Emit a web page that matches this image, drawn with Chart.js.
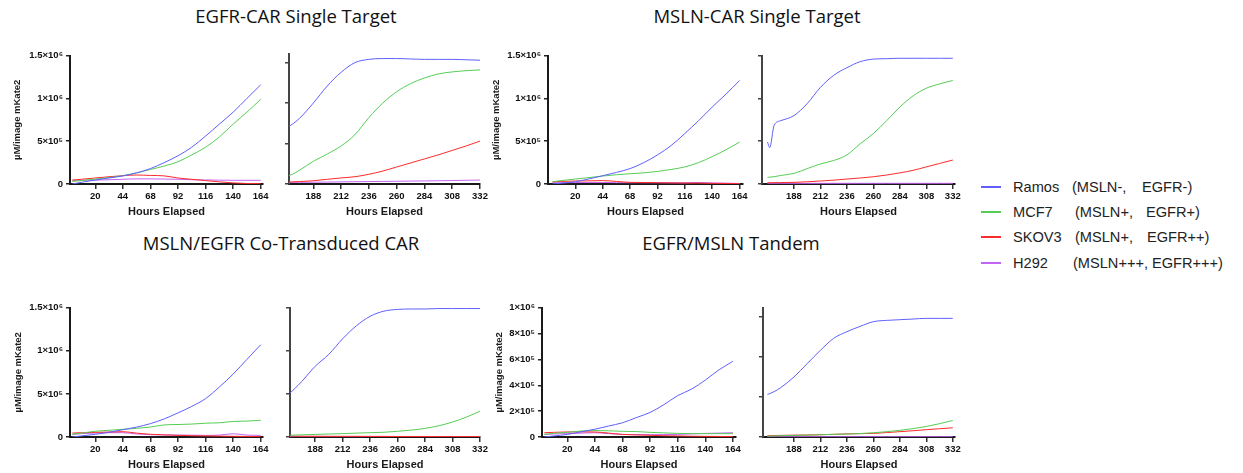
<!DOCTYPE html>
<html>
<head>
<meta charset="utf-8">
<script src="https://cdn.jsdelivr.net/npm/chart.js@4/dist/chart.umd.min.js"></script>
<style>
  body { margin: 0; background: #fff; }
  #page { position: relative; width: 1243px; height: 473px; overflow: hidden; background: #fff; font-family: "Liberation Sans", Arial, sans-serif; }
  canvas { position: absolute; }
  .title { position: absolute; width: 400px; text-align: center; font-family: "Open Sans", sans-serif; font-size: 18.5px; line-height: 18.5px; color: #111; }
  .row { position: absolute; left: 981px; width: 262px; height: 18px; line-height: 18px; font-size: 14.6px; color: #222; }
  .row span { position: absolute; top: 0; white-space: pre; }
  .row i { position: absolute; left: 0; top: 8px; width: 20px; height: 2px; }
</style>
</head>
<body>
<div id="page">
  <div class="title" style="left:96px; top:7px;">EGFR-CAR Single Target</div>
  <div class="title" style="left:557px; top:7px;">MSLN-CAR Single Target</div>
  <div class="title" style="left:81px; top:234px;">MSLN/EGFR Co-Transduced CAR</div>
  <div class="title" style="left:531px; top:234px;">EGFR/MSLN Tandem</div>
  <div id="legend"></div>
</div>
<script>
// time axis (hours elapsed), split into two halves
const hoursLeft = [0, 8, 20, 32, 44, 56, 68, 80, 92, 104, 116, 128, 140, 152, 164];
const hoursRight = [164, 166, 170, 176, 188, 200, 212, 224, 236, 248, 260, 272, 284, 296, 308, 320, 332];
const xTicksLeft = [20, 44, 68, 92, 116, 140, 164];
const xTicksRight = [188, 212, 236, 260, 284, 308, 332];

const yTicks15 = [0, 500000, 1000000, 1500000];
const yLabels15 = ["0", "5×10⁵", "1×10⁶", "1.5×10⁶"];
const yTicks10 = [0, 200000, 400000, 600000, 800000, 1000000];
const yLabels10 = ["0", "2×10⁵", "4×10⁵", "6×10⁵", "8×10⁵", "1×10⁶"];
const yTicksTandemRight = [0, 300000, 600000, 900000];

const cellLines = ["Ramos", "MCF7", "SKOV3", "H292"];
const cellMarkers = [["(MSLN-,", "EGFR-)"], ["(MSLN+,", "EGFR+)"], ["(MSLN+,", "EGFR++)"], ["(MSLN+++,", "EGFR+++)"]];
const lineColors = ["#5f5fff", "#55cc55", "#ff2a2a", "#c464f2"];

// EGFR-CAR single target
const egfrRamosL = [0, 2e4, 4.7e4, 7e4, 9.5e4, 1.3e5, 1.8e5, 2.5e5, 3.3e5, 4.3e5, 5.6e5, 7.0e5, 8.4e5, 1.0e6, 1.16e6];
const egfrMcf7L  = [3e4, 4e4, 5.8e4, 7.5e4, 9.7e4, 1.3e5, 1.7e5, 2.1e5, 2.6e5, 3.4e5, 4.3e5, 5.5e5, 7.0e5, 8.4e5, 9.9e5];
const egfrSkov3L = [4.6e4, 5.5e4, 7e4, 8.5e4, 9.7e4, 1.05e5, 1.0e5, 9.5e4, 7e4, 5.5e4, 4e4, 2.5e4, 1.3e4, 6e3, 4e3];
const egfrH292L  = [4.3e4, 4.4e4, 4.5e4, 5e4, 5.5e4, 6e4, 6e4, 5.8e4, 5.5e4, 5e4, 4.7e4, 4.5e4, 4.3e4, 4.3e4, 4.3e4];
const egfrRamosR = [6.9e5, 7.05e5, 7.4e5, 8.1e5, 1.0e6, 1.21e6, 1.38e6, 1.5e6, 1.54e6, 1.55e6, 1.55e6, 1.545e6, 1.54e6, 1.54e6, 1.54e6, 1.535e6, 1.53e6];
const egfrMcf7R  = [9e4, 1e5, 1.2e5, 1.7e5, 2.8e5, 3.7e5, 4.7e5, 6.1e5, 8.2e5, 1.0e6, 1.14e6, 1.24e6, 1.31e6, 1.36e6, 1.385e6, 1.4e6, 1.41e6];
const egfrSkov3R = [2.3e4, 2.5e4, 2.7e4, 3e4, 4e4, 5.8e4, 7.5e4, 9e4, 1.2e5, 1.6e5, 2.1e5, 2.6e5, 3.1e5, 3.6e5, 4.15e5, 4.7e5, 5.3e5];
const egfrH292R  = [2e4, 2e4, 2e4, 2.1e4, 2.2e4, 2.4e4, 2.6e4, 2.8e4, 3e4, 3.2e4, 3.4e4, 3.6e4, 3.8e4, 4e4, 4.3e4, 4.6e4, 4.9e4];

// MSLN-CAR single target
const mslnRamosL = [0, 1e4, 2.7e4, 6e4, 9.7e4, 1.35e5, 1.8e5, 2.5e5, 3.4e5, 4.5e5, 5.9e5, 7.4e5, 9.0e5, 1.05e6, 1.21e6];
const mslnMcf7L  = [2.7e4, 4e4, 5.8e4, 7.5e4, 9.3e4, 1.08e5, 1.2e5, 1.3e5, 1.47e5, 1.7e5, 2.0e5, 2.5e5, 3.2e5, 4.0e5, 4.9e5];
const mslnSkov3L = [2.7e4, 3e4, 3.5e4, 3.7e4, 4e4, 3e4, 1.9e4, 1.7e4, 1.5e4, 1.3e4, 1.2e4, 1e4, 8e3, 6e3, 4e3];
const mslnH292L  = [1.5e4, 1.6e4, 1.7e4, 1.8e4, 1.8e4, 1.6e4, 1.5e4, 1.5e4, 1.5e4, 1.4e4, 1.3e4, 1.8e4, 1.2e4, 1e4, 6e3];
const mslnRamosR = [4.9e5, 4.26e5, 6.86e5, 7.4e5, 8.0e5, 9.4e5, 1.13e6, 1.27e6, 1.36e6, 1.43e6, 1.46e6, 1.465e6, 1.47e6, 1.47e6, 1.47e6, 1.47e6, 1.47e6];
const mslnMcf7R  = [7.8e4, 8e4, 8.5e4, 1e5, 1.24e5, 1.8e5, 2.35e5, 2.75e5, 3.4e5, 4.7e5, 5.9e5, 7.4e5, 9.0e5, 1.03e6, 1.12e6, 1.17e6, 1.21e6];
const mslnSkov3R = [1.5e4, 1.5e4, 1.6e4, 1.7e4, 1.9e4, 2.6e4, 3.5e4, 4.5e4, 5.8e4, 7e4, 8.5e4, 1.05e5, 1.3e5, 1.6e5, 2.0e5, 2.4e5, 2.8e5];
const mslnH292R  = [8e3, 8e3, 8e3, 8e3, 8e3, 8e3, 8e3, 8e3, 8e3, 8e3, 8e3, 8e3, 8e3, 8e3, 8e3, 8e3, 8e3];

// MSLN/EGFR co-transduced CAR
const coRamosL = [0, 1.2e4, 3.1e4, 5.5e4, 8.5e4, 1.15e5, 1.55e5, 2.1e5, 2.8e5, 3.55e5, 4.45e5, 5.8e5, 7.3e5, 9.0e5, 1.07e6];
const coMcf7L  = [3.1e4, 4.5e4, 6.6e4, 7.8e4, 8.9e4, 1.0e5, 1.16e5, 1.4e5, 1.45e5, 1.5e5, 1.6e5, 1.65e5, 1.8e5, 1.85e5, 1.93e5];
const coSkov3L = [4.6e4, 5e4, 5.4e4, 5.8e4, 6.2e4, 4.5e4, 3.1e4, 2.4e4, 1.9e4, 1.5e4, 1.2e4, 1e4, 8e3, 6e3, 4e3];
const coH292L  = [3e4, 3.8e4, 4.6e4, 5e4, 5e4, 3.5e4, 2.7e4, 2.5e4, 2.3e4, 2.1e4, 1.9e4, 2.2e4, 3.8e4, 2.2e4, 1.9e4];
const coRamosR = [4.9e5, 5.1e5, 5.6e5, 6.4e5, 8.2e5, 9.6e5, 1.14e6, 1.29e6, 1.40e6, 1.46e6, 1.48e6, 1.485e6, 1.485e6, 1.49e6, 1.49e6, 1.49e6, 1.49e6];
const coMcf7R  = [2e4, 2e4, 2.2e4, 2.5e4, 3e4, 3.5e4, 3.9e4, 4.5e4, 5e4, 5.5e4, 6.6e4, 8e4, 1.0e5, 1.3e5, 1.74e5, 2.3e5, 3.0e5];
const coSkov3R = [1e4, 1e4, 1e4, 9e3, 9e3, 8e3, 8e3, 8e3, 7e3, 7e3, 6e3, 6e3, 6e3, 5e3, 5e3, 5e3, 5e3];
const coH292R  = [3e3, 3e3, 3e3, 3e3, 3e3, 3e3, 3e3, 3e3, 3e3, 3e3, 3e3, 3e3, 3e3, 3e3, 3e3, 3e3, 3e3];

// EGFR/MSLN tandem
const tanRamosL = [0, 8e3, 2e4, 4e4, 6e4, 8.5e4, 1.1e5, 1.5e5, 1.9e5, 2.5e5, 3.2e5, 3.7e5, 4.4e5, 5.2e5, 5.85e5];
const tanMcf7L  = [2e4, 2.8e4, 3.6e4, 4.6e4, 5e4, 4.8e4, 4.4e4, 4.2e4, 3.6e4, 3.2e4, 2.8e4, 2.6e4, 2.6e4, 2.6e4, 2.6e4];
const tanSkov3L = [3.3e4, 3.6e4, 3.9e4, 4e4, 3.9e4, 3e4, 2e4, 1.6e4, 1.3e4, 1e4, 8e3, 6e3, 5e3, 4e3, 3e3];
const tanH292L  = [2e4, 2.3e4, 2.6e4, 3e4, 3.3e4, 2.6e4, 2e4, 1.9e4, 1.8e4, 1.9e4, 2e4, 2.4e4, 2.8e4, 3e4, 3.3e4];
const tanRamosR = [3.2e5, 3.25e5, 3.4e5, 3.7e5, 4.5e5, 5.5e5, 6.5e5, 7.4e5, 7.9e5, 8.3e5, 8.65e5, 8.75e5, 8.8e5, 8.85e5, 8.9e5, 8.9e5, 8.9e5];
const tanMcf7R  = [7e3, 7e3, 8e3, 1e4, 1.2e4, 1.4e4, 1.7e4, 2e4, 2.2e4, 2.6e4, 3.2e4, 4e4, 5e4, 6.3e4, 7.9e4, 1.0e5, 1.24e5];
const tanSkov3R = [1e4, 1e4, 1.1e4, 1.2e4, 1.4e4, 1.5e4, 1.7e4, 2e4, 2.3e4, 2.5e4, 2.7e4, 3.3e4, 4e4, 4.7e4, 5.5e4, 6.2e4, 6.9e4];
const tanH292R  = [2e3, 2e3, 2e3, 2e3, 2e3, 2e3, 2e3, 2e3, 2e3, 2e3, 2e3, 2e3, 2e3, 2e3, 2e3, 2e3, 2e3];

const PAD_T = 8, PAD_R = 12, X_H = 36;
const FONT = "'Liberation Sans', Arial, 'DejaVu Sans', sans-serif";
const page = document.getElementById("page");

// area = [left, right, top, bottom] of the plot box in page pixels
const subplots = [
  { canvasLeft: 12, area: [70, 263, 55, 184], hours: hoursLeft, xMin: -2, xMax: 166, xTicks: xTicksLeft,
    yMax: 1.5e6, yTicks: yTicks15, yLabels: yLabels15, series: [egfrRamosL, egfrMcf7L, egfrSkov3L, egfrH292L] },
  { canvasLeft: 281, area: [289, 480, 53, 184], hours: hoursRight, xMin: 167, xMax: 332, xTicks: xTicksRight,
    yMax: 1.61e6, yTicks: yTicks15, yLabels: null, series: [egfrRamosR, egfrMcf7R, egfrSkov3R, egfrH292R] },
  { canvasLeft: 491, area: [548, 743, 55, 184], hours: hoursLeft, xMin: -4, xMax: 167, xTicks: xTicksLeft,
    yMax: 1.5e6, yTicks: yTicks15, yLabels: yLabels15, series: [mslnRamosL, mslnMcf7L, mslnSkov3L, mslnH292L] },
  { canvasLeft: 754, area: [762, 955, 55, 184], hours: hoursRight, xMin: 159, xMax: 334, xTicks: xTicksRight,
    yMax: 1.5e6, yTicks: yTicks15, yLabels: null, series: [mslnRamosR, mslnMcf7R, mslnSkov3R, mslnH292R] },
  { canvasLeft: 13, area: [70, 263, 307, 437], hours: hoursLeft, xMin: -2, xMax: 166, xTicks: xTicksLeft,
    yMax: 1.5e6, yTicks: yTicks15, yLabels: yLabels15, series: [coRamosL, coMcf7L, coSkov3L, coH292L] },
  { canvasLeft: 282, area: [290, 480, 307, 437], hours: hoursRight, xMin: 166, xMax: 332, xTicks: xTicksRight,
    yMax: 1.5e6, yTicks: yTicks15, yLabels: null, series: [coRamosR, coMcf7R, coSkov3R, coH292R] },
  { canvasLeft: 494, area: [542, 736, 307, 437], hours: hoursLeft, xMin: -2, xMax: 166.7, xTicks: xTicksLeft,
    yMax: 1e6, yTicks: yTicks10, yLabels: yLabels10, series: [tanRamosL, tanMcf7L, tanSkov3L, tanH292L] },
  { canvasLeft: 755, area: [763, 955, 307, 437], hours: hoursRight, xMin: 160, xMax: 334, xTicks: xTicksRight,
    yMax: 9.7e5, yTicks: yTicksTandemRight, yLabels: null, series: [tanRamosR, tanMcf7R, tanSkov3R, tanH292R] }
];

function drawSubplot(s) {
  const [left, right, top, bottom] = s.area;
  const isLeft = s.yLabels !== null;
  const cv = document.createElement("canvas");
  cv.width = right - s.canvasLeft + PAD_R;
  cv.height = PAD_T + (bottom - top) + X_H;
  cv.style.left = s.canvasLeft + "px";
  cv.style.top = (top - PAD_T) + "px";
  page.appendChild(cv);

  new Chart(cv, {
    type: "line",
    data: {
      datasets: s.series.map((vals, i) => ({
        label: cellLines[i],
        data: s.hours.map((h, k) => ({ x: h, y: vals[k] })),
        borderColor: lineColors[i],
        borderWidth: 1,
        pointRadius: 0,
        fill: false,
        cubicInterpolationMode: "monotone"
      }))
    },
    options: {
      responsive: false,
      animation: false,
      layout: { padding: { top: PAD_T, right: PAD_R, left: 0, bottom: 0 } },
      plugins: { legend: { display: false }, tooltip: { enabled: false } },
      scales: {
        x: {
          type: "linear",
          min: s.xMin,
          max: s.xMax,
          afterBuildTicks: a => { a.ticks = s.xTicks.map(v => ({ value: v })); },
          afterFit: a => { a.height = X_H; },
          ticks: { color: "#111", padding: 2, maxRotation: 0, font: { family: FONT, weight: "bold", size: 9.5 } },
          grid: { drawOnChartArea: false, tickLength: 5, color: "#333", lineWidth: 1.5 },
          border: { color: "#1a1a1a", width: 2 },
          title: { display: true, text: "Hours Elapsed", color: "#1a1a1a", padding: { top: 0, bottom: 1 },
                   font: { family: FONT, weight: "bold", size: 11 } }
        },
        y: {
          type: "linear",
          min: 0,
          max: s.yMax,
          afterBuildTicks: a => { a.ticks = s.yTicks.map(v => ({ value: v })); },
          afterFit: a => { a.width = left - s.canvasLeft; },
          ticks: {
            color: "#111", padding: 3,
            font: { family: FONT, weight: "bold", size: 9.5 },
            callback: (v, i) => isLeft ? s.yLabels[i] : ""
          },
          grid: { drawOnChartArea: false, tickLength: 4, color: isLeft ? "#222" : "#444", lineWidth: 1.5 },
          border: { color: isLeft ? "#1a1a1a" : "#444", width: 2 },
          title: { display: isLeft, text: "µM/image mKate2", color: "#1a1a1a", padding: 0,
                   font: { family: FONT, weight: "bold", size: 9.5 } }
        }
      }
    }
  });
}

subplots.forEach(drawSubplot);

// legend: line sample, cell line name, MSLN status, EGFR status
const legendRows = [186.7, 211.7, 237.3, 262.7];
const legendCols = [[32, 91, 161], [32, 94, 165], [32, 94, 166], [32, 92, 171]];
const legend = document.getElementById("legend");
cellLines.forEach((name, i) => {
  const row = document.createElement("div");
  row.className = "row";
  row.style.top = (legendRows[i] - 9) + "px";
  const c = legendCols[i];
  row.innerHTML =
    '<i style="background:' + lineColors[i] + '"></i>' +
    '<span style="left:' + c[0] + 'px">' + name + '</span>' +
    '<span style="left:' + c[1] + 'px">' + cellMarkers[i][0] + '</span>' +
    '<span style="left:' + c[2] + 'px">' + cellMarkers[i][1] + '</span>';
  legend.appendChild(row);
});
</script>
</body>
</html>
